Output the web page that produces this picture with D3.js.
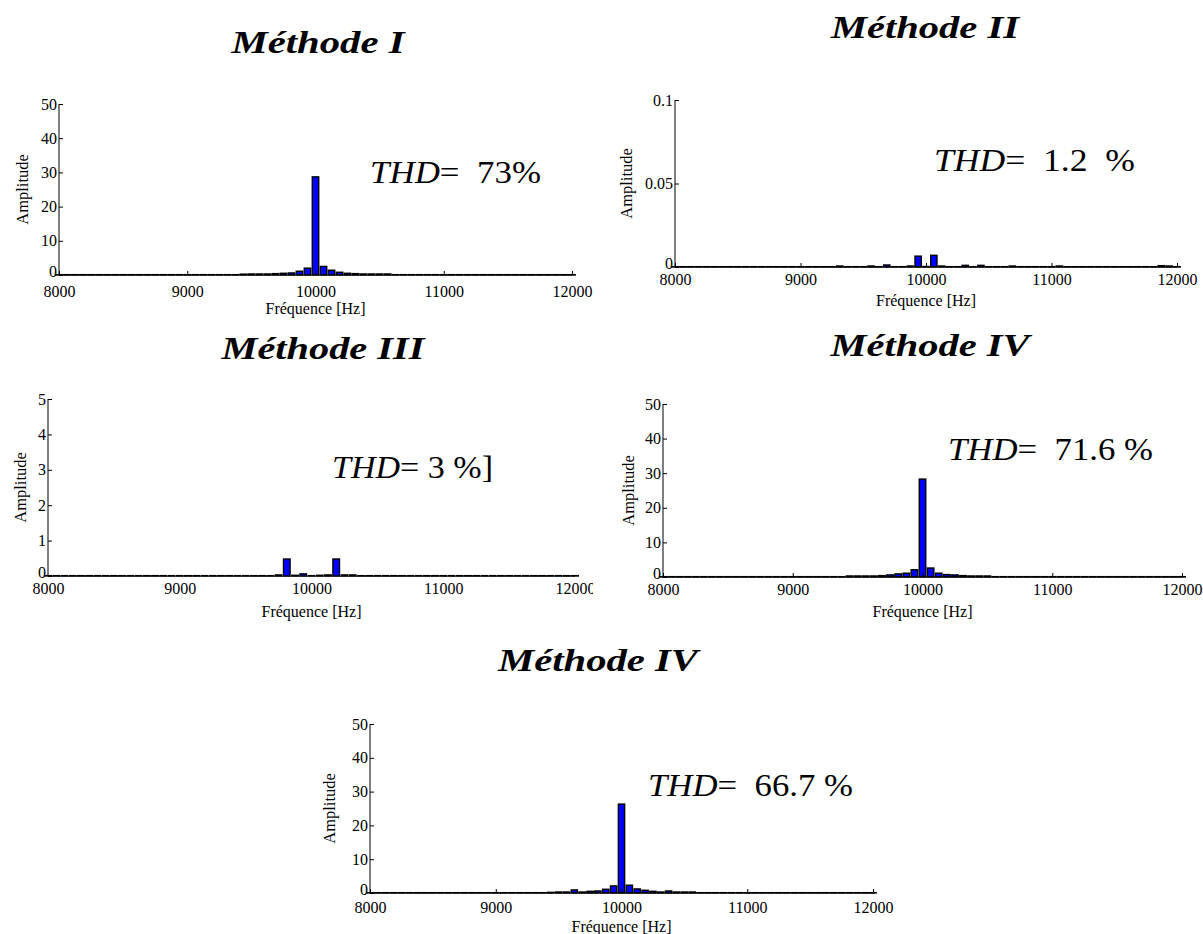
<!DOCTYPE html>
<html><head><meta charset="utf-8">
<script src="https://cdn.jsdelivr.net/npm/d3@7/dist/d3.min.js"></script>
<style>
body{margin:0;background:#fff;}
svg{display:block;}
</style></head>
<body>
<svg id="chart" width="1203" height="934"></svg>
<script>
// ---- data ----
const freqs = [8000, 8062.5, 8125, 8187.5, 8250, 8312.5, 8375, 8437.5, 8500, 8562.5, 8625, 8687.5, 8750, 8812.5, 8875, 8937.5,
  9000, 9062.5, 9125, 9187.5, 9250, 9312.5, 9375, 9437.5, 9500, 9562.5, 9625, 9687.5, 9750, 9812.5, 9875, 9937.5,
  10000, 10062.5, 10125, 10187.5, 10250, 10312.5, 10375, 10437.5, 10500, 10562.5, 10625, 10687.5, 10750, 10812.5, 10875, 10937.5,
  11000, 11062.5, 11125, 11187.5, 11250, 11312.5, 11375, 11437.5, 11500, 11562.5, 11625, 11687.5, 11750, 11812.5, 11875, 11937.5, 12000];

const ampMethodeI = [0.1,0.1,0.1,0.1,0.1,0.1,0.1,0.1,0.1,0.1,0.1,0.1,0.1,0.1,0.1,0.1,0.1,0.1,0.1,0.1,0.1,0.1,0.1,
  0.25,0.3,0.3,0.3,0.4,0.5,0.6,1.1,2.0,28.7,2.5,1.4,0.8,0.5,0.4,0.3,0.3,0.3,0.3,
  0.1,0.1,0.1,0.1,0.1,0.1,0.1,0.1,0.1,0.1,0.1,0.1,0.1,0.1,0.1,0.1,0.1,0.1,0.1,0.1,0.1,0.1,0.1];

const ampMethodeII = [0.0002,0.0002,0.0002,0.0002,0.0002,0.0002,0.0002,0.0002,0.0002,0.0002,0.0002,0.0002,0.0002,0.0002,0.0002,0.0002,0.0002,0.0002,0.0002,0.0002,0.0002,
  0.0006,0.0002,0.0002,0.0002,0.0006,0.0002,0.0012,0.0002,0.0002,0.0006,0.0065,0.0003,0.007,0.0006,0.0002,0.0002,0.001,0.0002,0.001,
  0.0002,0.0002,0.0002,0.0006,0.0002,0.0002,0.0002,0.0002,0.0002,0.0006,
  0.0002,0.0002,0.0002,0.0002,0.0002,0.0002,0.0002,0.0002,0.0002,0.0002,0.0002,0.0002,0.0008,0.0006,0.0002];

const ampMethodeIII = [0.01,0.01,0.01,0.01,0.01,0.01,0.01,0.01,0.01,0.01,0.01,0.01,0.01,0.01,0.01,0.01,0.01,0.01,0.01,0.01,0.01,0.01,0.01,0.01,0.01,0.01,0.01,0.01,
  0.03,0.48,0.02,0.06,0.01,0.02,0.03,0.48,0.03,0.03,
  0.01,0.01,0.01,0.01,0.01,0.01,0.01,0.01,0.01,0.01,0.01,0.01,0.01,0.01,0.01,0.01,0.01,0.01,0.01,0.01,0.01,0.01,0.01,0.01,0.01,0.01,0.01];

const ampMethodeIV = [0.1,0.1,0.1,0.1,0.1,0.1,0.1,0.1,0.1,0.1,0.1,0.1,0.1,0.1,0.1,0.1,0.1,0.1,0.1,0.1,0.1,0.1,0.1,
  0.3,0.3,0.3,0.3,0.4,0.6,0.9,1.1,2.1,28.3,2.6,1.1,0.7,0.6,0.4,0.3,0.3,0.3,
  0.1,0.1,0.1,0.1,0.1,0.1,0.1,0.1,0.1,0.1,0.1,0.1,0.1,0.1,0.1,0.1,0.1,0.1,0.1,0.1,0.1,0.1,0.1,0.1];

const ampMethodeIVb = [0.1,0.1,0.1,0.1,0.1,0.1,0.1,0.1,0.1,0.1,0.1,0.1,0.1,0.1,0.1,0.1,0.1,0.1,0.1,0.1,0.1,0.1,0.1,
  0.2,0.3,0.3,0.9,0.3,0.5,0.6,1.1,2.1,26.3,2.3,1.2,0.8,0.5,0.3,0.6,0.3,0.3,0.3,
  0.1,0.1,0.1,0.1,0.1,0.1,0.1,0.1,0.1,0.1,0.1,0.1,0.1,0.1,0.1,0.1,0.1,0.1,0.1,0.1,0.1,0.1,0.1];

const titles = ["Méthode I", "Méthode II", "Méthode III", "Méthode IV", "Méthode IV"];
const thdValues = ["=  73%", "=  1.2  %", "= 3 %]", "=  71.6 %", "=  66.7 %"];
const xTicks = [8000, 9000, 10000, 11000, 12000];
const yTicks50 = [0, 10, 20, 30, 40, 50];
const yTicksSmall = [0, 0.05, 0.1];
const yTicks5 = [0, 1, 2, 3, 4, 5];
const binWidth = 62.5;

// ---- layout (positions only) ----
const panels = [
  {amp: ampMethodeI,  yTicks: yTicks50,   yMax: 50,  x0: 59,  x1: 572,  yTop: 104, yBot: 275,
   title: [318, 53, 173], thd: [370, 183, 171], ampX: 28,  xlabY: 297, fqY: 314, clipX: null},
  {amp: ampMethodeII, yTicks: yTicksSmall,yMax: 0.1, x0: 675, x1: 1177, yTop: 100, yBot: 267,
   title: [925, 38, 188], thd: [934, 171, 201], ampX: 632, xlabY: 285, fqY: 306, clipX: null},
  {amp: ampMethodeIII,yTicks: yTicks5,    yMax: 5,   x0: 48,  x1: 575,  yTop: 399, yBot: 576,
   title: [323, 359, 203], thd: [332, 478, 161], ampX: 26,  xlabY: 594, fqY: 617, clipX: 593},
  {amp: ampMethodeIV, yTicks: yTicks50,   yMax: 50,  x0: 663, x1: 1182, yTop: 404, yBot: 577,
   title: [930, 356, 199], thd: [948, 460, 205], ampX: 634, xlabY: 595, fqY: 617, clipX: null},
  {amp: ampMethodeIVb,yTicks: yTicks50,   yMax: 50,  x0: 370, x1: 873,  yTop: 724, yBot: 893,
   title: [598, 671, 200], thd: [648, 796, 205], ampX: 335, xlabY: 913, fqY: 932, clipX: null}
];

const FONT = "Liberation Serif";
const svg = d3.select("#chart");
const defs = svg.append("defs");

panels.forEach((p, i) => {
  const g = svg.append("g");
  const x = d3.scaleLinear().domain([8000, 12000]).range([p.x0, p.x1]);
  const y = d3.scaleLinear().domain([0, p.yMax]).range([p.yBot, p.yTop]);
  const bw = x(8000 + binWidth * 0.8) - x(8000);

  // title
  g.append("text")
    .attr("x", p.title[0]).attr("y", p.title[1])
    .attr("text-anchor", "middle")
    .attr("font-size", 32).attr("font-weight", "bold").attr("font-style", "italic")
    .attr("textLength", p.title[2]).attr("lengthAdjust", "spacingAndGlyphs")
    .text(titles[i]);

  // bars
  const data = freqs.map((f, j) => ({f, v: p.amp[j]}));
  g.append("g").selectAll("rect").data(data).join("rect")
    .attr("x", d => x(d.f) - bw / 2)
    .attr("y", d => y(d.v))
    .attr("width", bw)
    .attr("height", d => y(0) - y(d.v))
    .attr("fill", "#0000ff")
    .attr("stroke", "#000")
    .attr("stroke-width", 1.4);

  let clipId = null;
  if (p.clipX) {
    clipId = "clip" + i;
    defs.append("clipPath").attr("id", clipId).append("rect")
      .attr("x", 0).attr("y", 0).attr("width", p.clipX).attr("height", 934);
  }

  // x axis
  const xa = g.append("g").attr("transform", `translate(0,${p.yBot})`)
    .call(d3.axisBottom(x).tickValues(xTicks).tickSize(-4).tickPadding(0).tickFormat(d3.format("d")));
  xa.select(".domain").attr("stroke", "#000").attr("stroke-width", 1.2).attr("d", `M${p.x0},0H${p.x1}`);
  xa.selectAll(".tick line").attr("stroke", "#000");
  xa.selectAll(".tick text").attr("y", p.xlabY - p.yBot).attr("dy", 0).attr("font-size", 16);
  if (clipId) xa.attr("clip-path", `url(#${clipId})`);

  // y axis
  const ya = g.append("g").attr("transform", `translate(${p.x0},0)`)
    .call(d3.axisLeft(y).tickValues(p.yTicks).tickSize(-4).tickPadding(2)
      .tickFormat(d => p.yMax < 1 ? (d === 0 ? "0" : String(+d.toFixed(2))) : d));
  ya.select(".domain").attr("stroke", "#000").attr("stroke-width", 1).attr("d", `M0,${p.yBot}V${p.yTop}`);
  ya.selectAll(".tick line").attr("stroke", "#000");
  ya.selectAll(".tick text").attr("font-size", 16);
  ya.selectAll(".tick text").filter(d => d === 0).attr("dy", "0.1em");

  // axis labels
  g.append("text")
    .attr("transform", `translate(${p.ampX},${(p.yTop + p.yBot) / 2}) rotate(-90)`)
    .attr("text-anchor", "middle").attr("font-size", 16.5)
    .text("Amplitude");
  g.append("text")
    .attr("x", (p.x0 + p.x1) / 2).attr("y", p.fqY)
    .attr("text-anchor", "middle").attr("font-size", 16)
    .text("Fréquence [Hz]");

  // THD annotation
  const t = g.append("text")
    .attr("x", p.thd[0]).attr("y", p.thd[1])
    .attr("font-size", 32)
    .attr("xml:space", "preserve")
    .style("white-space", "pre")
    .attr("textLength", p.thd[2]).attr("lengthAdjust", "spacingAndGlyphs");
  t.append("tspan").attr("font-style", "italic").text("THD");
  t.append("tspan").text(thdValues[i]);
});

// same serif face on every text, including axis ticks
svg.selectAll("g").attr("font-family", FONT);
svg.selectAll("text").attr("font-family", FONT).attr("fill", "#000");
</script>
</body></html>
